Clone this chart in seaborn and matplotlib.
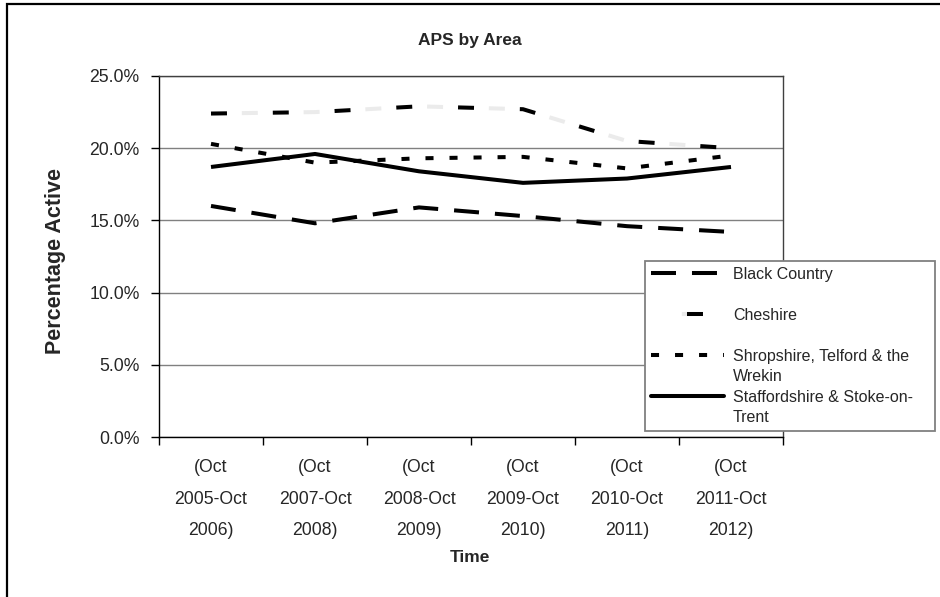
import matplotlib
matplotlib.use("Agg")
import matplotlib.pyplot as plt
import seaborn as sns
import pandas as pd
from matplotlib.lines import Line2D
from matplotlib.legend_handler import HandlerTuple
from matplotlib.patches import Rectangle
from matplotlib.ticker import FuncFormatter, FixedLocator

# ---- data ----
periods = ["(Oct\n2005-Oct\n2006)", "(Oct\n2007-Oct\n2008)", "(Oct\n2008-Oct\n2009)",
           "(Oct\n2009-Oct\n2010)", "(Oct\n2010-Oct\n2011)", "(Oct\n2011-Oct\n2012)"]
black_country = [16.0, 14.8, 15.9, 15.3, 14.6, 14.2]
cheshire = [22.4, 22.5, 22.9, 22.7, 20.5, 20.0]
shropshire = [20.3, 19.0, 19.3, 19.4, 18.6, 19.5]
staffordshire = [18.7, 19.6, 18.4, 17.6, 17.9, 18.7]
legend_rows = ["Black Country", " ", "Cheshire", " ", "Shropshire, Telford & the", "Wrekin",
               "Staffordshire & Stoke-on-", "Trent"]
y_ticks = [0, 5, 10, 15, 20, 25]
title = "APS by Area"
x_label = "Time"
y_label = "Percentage Active"

sns.set_theme(style="white")
plt.rcParams['font.family'] = ['Liberation Sans', 'DejaVu Sans']
plt.rcParams['lines.scale_dashes'] = False

fig = plt.figure(figsize=(9.4, 5.97), dpi=100)
fig.patch.set_facecolor("white")
ax = fig.add_axes([159/940, 1-437/597, (783-159)/940, (437-76)/597])

pos = list(range(len(periods)))
LW = 2.9
style_bc = dict(color="black", linestyle=(0, (18.0, 11.5)))
style_ch_gray = dict(color="#ebebeb", linestyle=(22.3, (11.5, 33.0)))
style_ch_black = dict(color="black", linestyle=(0, (11.5, 33.0)))
style_sh = dict(color="black", linestyle=(0, (5.8, 11.5)))
style_st = dict(color="black", linestyle="-")

for vals, st in [(black_country, style_bc), (cheshire, style_ch_gray), (cheshire, style_ch_black),
                 (shropshire, style_sh), (staffordshire, style_st)]:
    df = pd.DataFrame({"pos": pos, "val": vals})
    sns.lineplot(data=df, x="pos", y="val", ax=ax, linewidth=LW, legend=False,
                 solid_capstyle="butt", dash_capstyle="butt", **st)

ax.set_xlim(-0.5, len(periods) - 0.5)
ax.set_ylim(0, 25)
ax.set_yticks(y_ticks)
ax.yaxis.set_major_formatter(FuncFormatter(lambda v, p: f"{v:.1f}%"))
ax.xaxis.set_major_locator(FixedLocator([i - 0.5 for i in range(len(periods) + 1)]))
ax.xaxis.set_major_formatter(FuncFormatter(lambda v, p: ""))
ax.xaxis.set_minor_locator(FixedLocator(pos))
ax.set_xticklabels(periods, minor=True)
ax.tick_params(axis="x", which="minor", length=0, pad=16, labelsize=12.7)
ax.tick_params(axis="x", which="major", length=6, width=1, color="black", direction="out", bottom=True)
ax.tick_params(axis="y", length=5.5, width=1, color="black", direction="out", left=True,
               labelsize=12.7, pad=8.5)
for lab in ax.get_xticklabels(minor=True):
    lab.set_linespacing(2.12)

ax.grid(axis="y", color="#808080", linewidth=1.0)
ax.grid(axis="x", visible=False)
ax.set_axisbelow(True)
for s in ["left", "bottom"]:
    ax.spines[s].set_color("black")
    ax.spines[s].set_linewidth(1.0)
for s in ["top", "right"]:
    ax.spines[s].set_color("#404040")
    ax.spines[s].set_linewidth(1.0)

ax.set_xlabel("")
ax.set_ylabel("")
fig.text(470/940, 1-40/597, title, ha="center", va="center", fontsize=12.5, fontweight="bold")
fig.text(470/940, 1-557/597, x_label, ha="center", va="center", fontsize=12.5, fontweight="bold")
fig.text(55/940, 1-261/597, y_label, ha="center", va="center", fontsize=15.5, fontweight="bold", rotation=90)

# legend
h_bc = Line2D([], [], linewidth=LW, **style_bc)
h_chg = Line2D([], [], linewidth=LW, **style_ch_gray)
h_chb = Line2D([], [], linewidth=LW, **style_ch_black)
h_sh = Line2D([], [], linewidth=LW, **style_sh)
h_st = Line2D([], [], linewidth=LW, **style_st)
blank = Line2D([], [], linestyle="none")
handles = [h_bc, blank, (h_chg, h_chb), blank, h_sh, blank, h_st, blank]
leg = fig.legend(handles, legend_rows, loc="upper left",
                 bbox_to_anchor=(645/940, 1-261/597, (935-645)/940, 0),
                 bbox_transform=fig.transFigure, mode="expand",
                 handler_map={tuple: HandlerTuple(ndivide=None, pad=0)},
                 fontsize=11.5, handlelength=4.6, handletextpad=0.55, labelspacing=0.345,
                 borderpad=0.35, frameon=True, fancybox=False, framealpha=1, borderaxespad=0)
leg.get_frame().set_edgecolor("#808080")
leg.get_frame().set_linewidth(1.3)

# outer frame
fig.patches.append(Rectangle((7/940, -0.1), 1.2, 1-4/597+0.1, transform=fig.transFigure,
                             fill=False, edgecolor="black", linewidth=1.6, figure=fig))

fig.savefig("out.png", dpi=100)
